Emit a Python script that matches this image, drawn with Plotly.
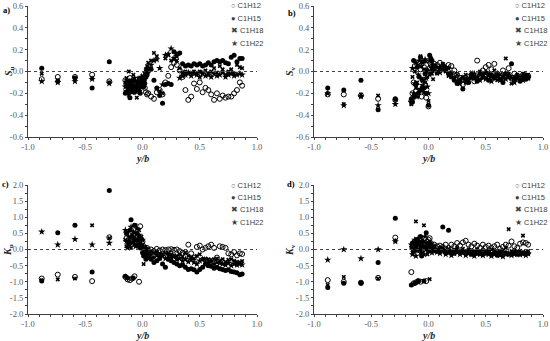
import plotly.graph_objects as go

# ---------------- data ----------------
series_names = ["C1H12", "C1H15", "C1H18", "C1H22"]

yb = [-0.88, -0.74, -0.59, -0.44, -0.29,
      -0.15, -0.14, -0.13, -0.12, -0.11, -0.10, -0.09, -0.08, -0.07, -0.06, -0.05,
      -0.04, -0.03, -0.02, -0.01, 0.00, 0.01, 0.02, 0.03, 0.04, 0.05,
      0.075, 0.10, 0.125, 0.15, 0.175, 0.20, 0.225, 0.25, 0.275, 0.30, 0.325,
      0.35, 0.375, 0.40, 0.425, 0.45, 0.475, 0.50, 0.525, 0.55, 0.575, 0.60,
      0.625, 0.65, 0.675, 0.70, 0.725, 0.75, 0.775, 0.80, 0.825, 0.85, 0.87]

# a) S_u
su_c1h12 = [-0.07, -0.05, -0.05, -0.03, -0.09,
            -0.08, -0.12, -0.10, -0.15, -0.06, -0.13, -0.09, -0.17, -0.11, -0.14, -0.08,
            -0.16, -0.12, -0.07, -0.10, -0.13, -0.09, -0.15, -0.19, -0.21, -0.20,
            -0.23, -0.25, -0.19, -0.17, -0.21, -0.10, -0.04, 0.04, 0.08, 0.06, 0.01,
            -0.05, -0.17, -0.26, -0.23, -0.11, -0.16, -0.10, -0.19, -0.15, -0.17, -0.21,
            -0.26, -0.20, -0.25, -0.22, -0.24, -0.23, -0.23, -0.20, -0.17, -0.10, -0.13]
su_c1h15 = [0.03, -0.09, -0.06, -0.15, 0.09,
            -0.20, -0.10, -0.14, -0.18, -0.24, -0.12, -0.16, -0.08, -0.19, -0.13, -0.17,
            -0.10, -0.15, -0.20, -0.12, -0.08, -0.14, -0.11, -0.05, -0.03, 0.00,
            0.02, -0.08, -0.15, -0.22, -0.29, -0.12, -0.11, -0.12, 0.18, 0.16, 0.17,
            0.07, 0.05, 0.06, 0.05, 0.07, 0.06, 0.07, 0.05, 0.06, 0.08, 0.06,
            0.09, 0.10, 0.09, 0.10, 0.08, 0.07, 0.13, 0.15, 0.09, 0.12, 0.12]
su_c1h18 = [-0.02, -0.08, -0.07, -0.06, -0.10,
            -0.10, -0.06, -0.15, 0.00, -0.12, -0.08, -0.18, -0.03, -0.14, -0.09, -0.24,
            -0.11, -0.06, -0.13, -0.09, -0.04, -0.07, -0.02, 0.02, 0.05, 0.08,
            0.10, 0.17, 0.14, -0.18, -0.20, 0.12, 0.15, 0.10, 0.12, 0.10, 0.03,
            -0.01, 0.00, -0.02, -0.01, 0.00, -0.02, 0.00, -0.01, 0.01, -0.02, 0.00,
            0.03, -0.01, 0.05, 0.02, -0.03, 0.00, 0.02, -0.02, 0.06, 0.04, 0.03]
su_c1h22 = [-0.09, -0.10, -0.09, -0.07, -0.11,
            -0.14, -0.18, -0.08, -0.21, -0.16, -0.10, -0.19, -0.13, -0.06, -0.17, -0.12,
            -0.09, -0.18, -0.14, -0.05, -0.11, -0.08, -0.06, -0.02, 0.01, 0.03,
            0.06, 0.10, 0.11, 0.03, -0.12, 0.15, 0.16, 0.21, 0.12, 0.14, -0.06,
            -0.04, -0.03, -0.01, -0.04, -0.02, -0.03, -0.05, -0.02, -0.04, -0.03, -0.05,
            -0.02, -0.04, -0.03, -0.01, -0.05, -0.03, -0.02, -0.04, -0.03, -0.02, -0.03]

# b) S_v
sv_c1h12 = [-0.21, -0.21, -0.22, -0.25, -0.26,
            -0.27, -0.20, -0.10, 0.05, -0.18, -0.22, 0.08, -0.14, 0.02, -0.23, -0.08,
            0.04, -0.12, -0.24, 0.00, -0.32, 0.03, 0.06, 0.05, 0.04, 0.07,
            0.06, 0.08, 0.04, 0.03, 0.06, 0.05, 0.01, -0.03, -0.06, -0.12, -0.08,
            -0.05, -0.03, -0.09, 0.10, -0.04, 0.01, 0.04, 0.06, 0.02, 0.07, -0.02,
            -0.05, 0.01, -0.03, 0.03, -0.06, -0.02, -0.04, -0.07, -0.03, -0.05, -0.04]
sv_c1h15 = [-0.15, -0.17, -0.08, -0.35, -0.25,
            -0.25, -0.28, 0.10, -0.22, -0.12, 0.04, -0.20, -0.05, 0.13, -0.17, 0.09,
            -0.15, -0.02, -0.20, 0.01, -0.31, 0.15, 0.12, 0.10, 0.02, 0.05,
            -0.01, 0.03, 0.06, 0.01, -0.02, -0.05, -0.08, -0.11, -0.09, -0.16, -0.07,
            -0.10, -0.04, -0.06, -0.09, -0.02, -0.05, -0.01, -0.08, -0.03, -0.06, -0.04,
            -0.07, -0.10, -0.02, -0.05, 0.07, -0.08, -0.06, -0.09, -0.05, -0.07, -0.06]
sv_c1h18 = [-0.20, -0.30, -0.21, -0.22, -0.26,
            -0.30, -0.05, -0.24, 0.00, -0.15, -0.10, 0.06, -0.18, 0.14, -0.07, -0.13,
            0.02, -0.10, 0.09, -0.05, -0.27, -0.03, 0.12, -0.02, -0.07, 0.03,
            -0.02, 0.02, 0.07, 0.00, -0.04, -0.01, -0.06, -0.03, -0.07, -0.05, -0.03,
            -0.06, -0.01, -0.04, -0.07, 0.00, -0.03, -0.06, -0.02, -0.05, 0.01, -0.08,
            -0.03, -0.06, 0.12, -0.02, -0.11, -0.05, -0.03, -0.08, -0.02, -0.06, -0.03]
sv_c1h22 = [-0.20, -0.31, -0.23, -0.31, -0.30,
            -0.28, 0.03, -0.20, -0.11, 0.08, -0.23, -0.03, 0.10, -0.16, 0.05, -0.08,
            -0.19, 0.11, -0.06, -0.14, -0.20, 0.10, -0.01, 0.03, 0.06, 0.01,
            0.04, -0.01, 0.02, 0.04, 0.03, -0.03, -0.06, -0.09, -0.11, -0.06, -0.10,
            -0.08, -0.06, -0.02, -0.05, -0.08, -0.03, -0.07, -0.04, -0.09, -0.05, -0.02,
            -0.08, -0.04, -0.07, -0.03, -0.06, -0.10, -0.04, -0.07, -0.08, -0.03, -0.06]

# c) K_u
ku_c1h12 = [-0.90, -0.78, -0.85, -0.98, 0.38,
            -0.85, 0.35, -0.93, 0.20, -0.95, 0.30, -0.90, 0.45, -0.83, 0.35, 0.20,
            0.40, -1.00, 0.72, 0.30, 0.25, 0.10, 0.05, 0.00, 0.05, -0.02,
            0.00, -0.05, 0.02, -0.03, 0.00, -0.02, 0.00, 0.01, -0.01, 0.00, -0.05,
            -0.10, -0.08, 0.15, -0.12, -0.25, 0.08, 0.12, 0.00, 0.05, 0.10, 0.15,
            0.05, -0.25, 0.10, 0.08, 0.05, -0.12, -0.15, -0.08, -0.18, -0.12, -0.14]
ku_c1h15 = [-0.98, 0.52, 0.75, -0.70, 1.83,
            -0.83, 0.50, -0.88, 0.25, 0.60, 0.92, 0.40, -0.88, 0.75, 0.30, 0.50,
            0.15, 0.35, 0.05, 0.10, -0.10, -0.20, -0.05, -0.30, -0.15, -0.25,
            -0.30, -0.40, -0.35, -0.28, -0.45, -0.55, -0.30, -0.35, -0.40, -0.45, -0.50,
            -0.48, -0.55, -0.62, -0.60, -0.63, -0.70, -0.62, -0.55, -0.45, -0.50, -0.52,
            -0.58, -0.55, -0.60, -0.62, -0.65, -0.63, -0.68, -0.70, -0.72, -0.78, -0.76]
ku_c1h18 = [-0.95, -0.93, -0.90, 0.75, 0.35,
            0.30, 0.10, 0.55, 0.20, 0.35, 0.05, 0.45, 0.25, 0.15, 0.75, 0.30,
            0.10, 0.60, 0.20, 0.40, 0.15, -0.45, 0.05, -0.05, 0.00, -0.10,
            -0.05, -0.10, -0.08, -0.12, -0.15, -0.10, -0.12, -0.15, -0.18, -0.20, -0.15,
            -0.22, -0.10, -0.20, -0.25, -0.28, -0.20, -0.15, -0.30, -0.28, -0.30, -0.32,
            -0.30, -0.28, -0.35, -0.30, -0.38, -0.32, -0.30, -0.35, -0.38, -0.40, -0.36]
ku_c1h22 = [0.55, 0.15, 0.32, 0.15, 0.20,
            0.60, 0.25, 0.05, 0.40, 0.15, 0.70, 0.20, 0.55, 0.30, 0.10, 0.65,
            0.25, 0.45, 0.35, 0.15, 0.30, 0.05, -0.10, -0.15, -0.20, -0.25,
            -0.15, -0.25, -0.18, -0.22, -0.20, -0.28, -0.18, -0.25, -0.22, -0.30, -0.28,
            -0.35, -0.30, -0.38, -0.32, -0.40, -0.45, -0.35, -0.30, -0.40, -0.42, -0.38,
            -0.45, -0.40, -0.42, -0.45, -0.48, -0.42, -0.50, -0.45, -0.48, -0.45, -0.47]

# d) K_v
kv_c1h12 = [-0.95, -1.00, -1.03, -0.88, 0.37,
            -0.70, 0.15, -1.05, 0.25, -1.02, 0.10, -0.98, 0.30, -1.00, 0.20, 0.05,
            0.15, 0.35, -0.98, 0.25, 0.30, 0.35, 0.20, 0.05, 0.10, 0.15,
            0.10, 0.12, 0.08, 0.15, 0.05, 0.15, 0.10, 0.20, 0.12, 0.22, 0.27,
            0.15, 0.10, 0.18, 0.12, 0.05, 0.15, 0.08, 0.12, 0.05, 0.10, 0.15,
            0.02, 0.08, 0.15, 0.12, 0.25, 0.10, 0.05, 0.18, 0.22, 0.20, 0.15]
kv_c1h15 = [-1.18, -1.05, -1.05, -0.40, 0.97,
            -1.10, 0.20, -0.05, -1.05, 0.10, 0.30, -0.98, 0.15, 0.40, -0.20, 0.25,
            -0.98, 0.05, 0.52, 0.10, -0.05, 0.20, 0.15, 0.00, -0.05, 0.05,
            -0.05, 0.05, 0.70, -0.10, 0.60, -0.08, -0.12, -0.05, -0.10, -0.08, -0.12,
            -0.10, -0.15, -0.08, -0.12, -0.10, -0.15, -0.12, -0.10, -0.15, -0.12, -0.18,
            -0.15, -0.12, -0.10, -0.15, -0.12, -0.10, -0.15, -0.12, -0.10, -0.14, -0.12]
kv_c1h18 = [-1.10, -0.85, -1.03, -0.90, 0.27,
            0.05, -0.10, 0.20, 0.10, 0.87, -0.05, 0.15, 0.25, 0.00, 0.10, -0.10,
            0.75, 0.05, 0.20, -0.15, 0.10, -0.92, 0.05, -0.05, 0.00, 0.10,
            0.00, -0.05, 0.05, -0.02, 0.02, -0.05, 0.00, 0.05, -0.03, 0.02, -0.05,
            0.00, -0.03, -0.06, 0.00, -0.05, -0.02, -0.06, -0.03, 0.00, -0.05, -0.08,
            -0.04, -0.02, 0.05, 0.63, -0.05, -0.03, -0.06, -0.04, 0.43, -0.08, -0.05]
kv_c1h22 = [-0.32, 0.00, -0.28, 0.00, 0.25,
            0.15, -0.15, 0.05, 0.30, -0.20, 0.20, 0.35, 0.00, -0.10, 0.25, 0.10,
            -0.15, 0.40, 0.00, 0.15, 0.20, -0.05, 0.10, -0.10, 0.05, -0.05,
            -0.08, -0.12, -0.05, -0.15, -0.10, -0.18, -0.12, -0.08, -0.15, -0.10, -0.18,
            -0.12, -0.15, -0.20, -0.12, -0.15, -0.18, -0.12, -0.15, -0.20, -0.15, -0.12,
            -0.18, -0.22, -0.15, -0.12, -0.18, -0.15, -0.12, -0.16, -0.14, -0.18, -0.13]

x_tickvals = [-1.0, -0.5, 0.0, 0.5, 1.0]
x_ticktext = ["-1.0", "-0.5", "0.0", "0.5", "1.0"]
s_tickvals = [-0.6, -0.4, -0.2, 0.0, 0.2, 0.4, 0.6]
s_ticktext = ["-0.6", "-0.4", "-0.2", "0.0", "0.2", "0.4", "0.6"]
k_tickvals = [-2.0, -1.5, -1.0, -0.5, 0.0, 0.5, 1.0, 1.5, 2.0]
k_ticktext = ["-2.0", "-1.5", "-1.0", "-0.5", "0.0", "0.5", "1.0", "1.5", "2.0"]

panels = [
    dict(label="a)", ytitle="<i>S</i><sub>u</sub>", data=[su_c1h12, su_c1h15, su_c1h18, su_c1h22],
         yr=[-0.6, 0.6], tv=s_tickvals, tt=s_ticktext, minor=0.1),
    dict(label="b)", ytitle="<i>S</i><sub>v</sub>", data=[sv_c1h12, sv_c1h15, sv_c1h18, sv_c1h22],
         yr=[-0.6, 0.6], tv=s_tickvals, tt=s_ticktext, minor=0.1),
    dict(label="c)", ytitle="<i>K</i><sub>u</sub>", data=[ku_c1h12, ku_c1h15, ku_c1h18, ku_c1h22],
         yr=[-2.0, 2.0], tv=k_tickvals, tt=k_ticktext, minor=0.25),
    dict(label="d)", ytitle="<i>K</i><sub>v</sub>", data=[kv_c1h12, kv_c1h15, kv_c1h18, kv_c1h22],
         yr=[-2.0, 2.0], tv=k_tickvals, tt=k_ticktext, minor=0.25),
]

# ---------------- layout geometry (pixels) ----------------
W, H = 550, 341
def fx(p):
    return p / W
def fy(p):
    return 1 - p / H

# plot areas: (left, right, top, bottom) in px
areas = [(28, 257, 6, 137), (314, 543, 6, 137), (28, 257, 185, 314), (314, 543, 185, 314)]
label_pos = [(1, 10), (286, 13), (0, 184), (285, 184)]
ytitle_pos = [(9, 71), (290, 71), (8, 250), (290, 250)]
xtitle_y = [158, 158, 335, 335]
legend_pos = [(229, 6), (513, 6), (229, 185), (513, 185)]
legend_step = 12.4

marker_styles = [
    dict(symbol="circle-open", size=5, color="black", line=dict(width=1, color="black")),
    dict(symbol="circle", size=5, color="black", line=dict(width=0)),
    dict(symbol="x", size=4, color="black", line=dict(width=0)),
    dict(symbol="star", size=5.5, color="black", line=dict(width=0)),
]
legend_glyphs = ["\u25cb", "\u25cf", "\u2716", "\u2605"]

axis_color = "#404040"
tick_font = dict(family="Liberation Serif", size=8.5, color="#595959")

fig = go.Figure()
annotations = []
shapes = []
layout_axes = {}

for i, p in enumerate(panels):
    sfx = "" if i == 0 else str(i + 1)
    xref, yref = "x" + sfx, "y" + sfx
    l, r, t, b = areas[i]
    for name, vals, ms in zip(series_names, p["data"], marker_styles):
        fig.add_trace(go.Scatter(x=yb, y=vals, mode="markers", name=name, marker=ms,
                                 xaxis=xref, yaxis=yref, showlegend=False))
    layout_axes["xaxis" + sfx] = dict(
        domain=[fx(l), fx(r)], anchor=yref, range=[-1.0, 1.0],
        tickmode="array", tickvals=x_tickvals, ticktext=x_ticktext,
        showline=True, linecolor=axis_color, linewidth=1, ticks="outside", ticklen=2,
        tickcolor=axis_color, showgrid=False, zeroline=False, tickfont=tick_font,
        minor=dict(ticks="outside", ticklen=2, tickcolor=axis_color, dtick=0.1, tick0=0),
        automargin=False)
    layout_axes["yaxis" + sfx] = dict(
        domain=[fy(b), fy(t)], anchor=xref, range=p["yr"],
        tickmode="array", tickvals=p["tv"], ticktext=p["tt"],
        showline=True, linecolor=axis_color, linewidth=1, ticks="outside", ticklen=2,
        tickcolor=axis_color, showgrid=False, zeroline=False, tickfont=tick_font,
        minor=dict(ticks="outside", ticklen=2, tickcolor=axis_color, dtick=p["minor"], tick0=0),
        automargin=False)
    shapes.append(dict(type="line", xref=xref, yref=yref, x0=-1.0, x1=1.0, y0=0, y1=0,
                       line=dict(color=axis_color, width=1, dash="dot")))
    # panel label
    annotations.append(dict(text="<b>%s</b>" % p["label"], xref="paper", yref="paper",
                            x=fx(label_pos[i][0]), y=fy(label_pos[i][1]), xanchor="left",
                            yanchor="middle", showarrow=False,
                            font=dict(family="Liberation Serif", size=8.5, color="black")))
    # axis titles
    annotations.append(dict(text="<b><i>y/b</i></b>", xref="paper", yref="paper",
                            x=fx((l + r) / 2), y=fy(xtitle_y[i]), xanchor="center",
                            yanchor="middle", showarrow=False,
                            font=dict(family="Liberation Serif", size=10, color="#262626")))
    annotations.append(dict(text="<b>%s</b>" % p["ytitle"], xref="paper", yref="paper",
                            x=fx(ytitle_pos[i][0]), y=fy(ytitle_pos[i][1]), xanchor="center",
                            yanchor="middle", textangle=-90, showarrow=False,
                            font=dict(family="Liberation Serif", size=10, color="#262626")))
    # legend
    lx, ly = legend_pos[i]
    for k, name in enumerate(series_names):
        annotations.append(dict(text="%s %s" % (legend_glyphs[k], name), xref="paper", yref="paper",
                                x=fx(lx), y=fy(ly + k * legend_step), xanchor="left",
                                yanchor="middle", showarrow=False,
                                font=dict(family="Liberation Sans", size=7.5, color="#404040")))

fig.update_layout(
    width=W, height=H, margin=dict(l=0, r=0, t=0, b=0),
    paper_bgcolor="white", plot_bgcolor="white", showlegend=False,
    annotations=annotations, shapes=shapes, **layout_axes)

fig.write_html("out.html", config={"displayModeBar": False},
               post_script="document.body.style.margin='0px';document.body.style.overflow='hidden';")
